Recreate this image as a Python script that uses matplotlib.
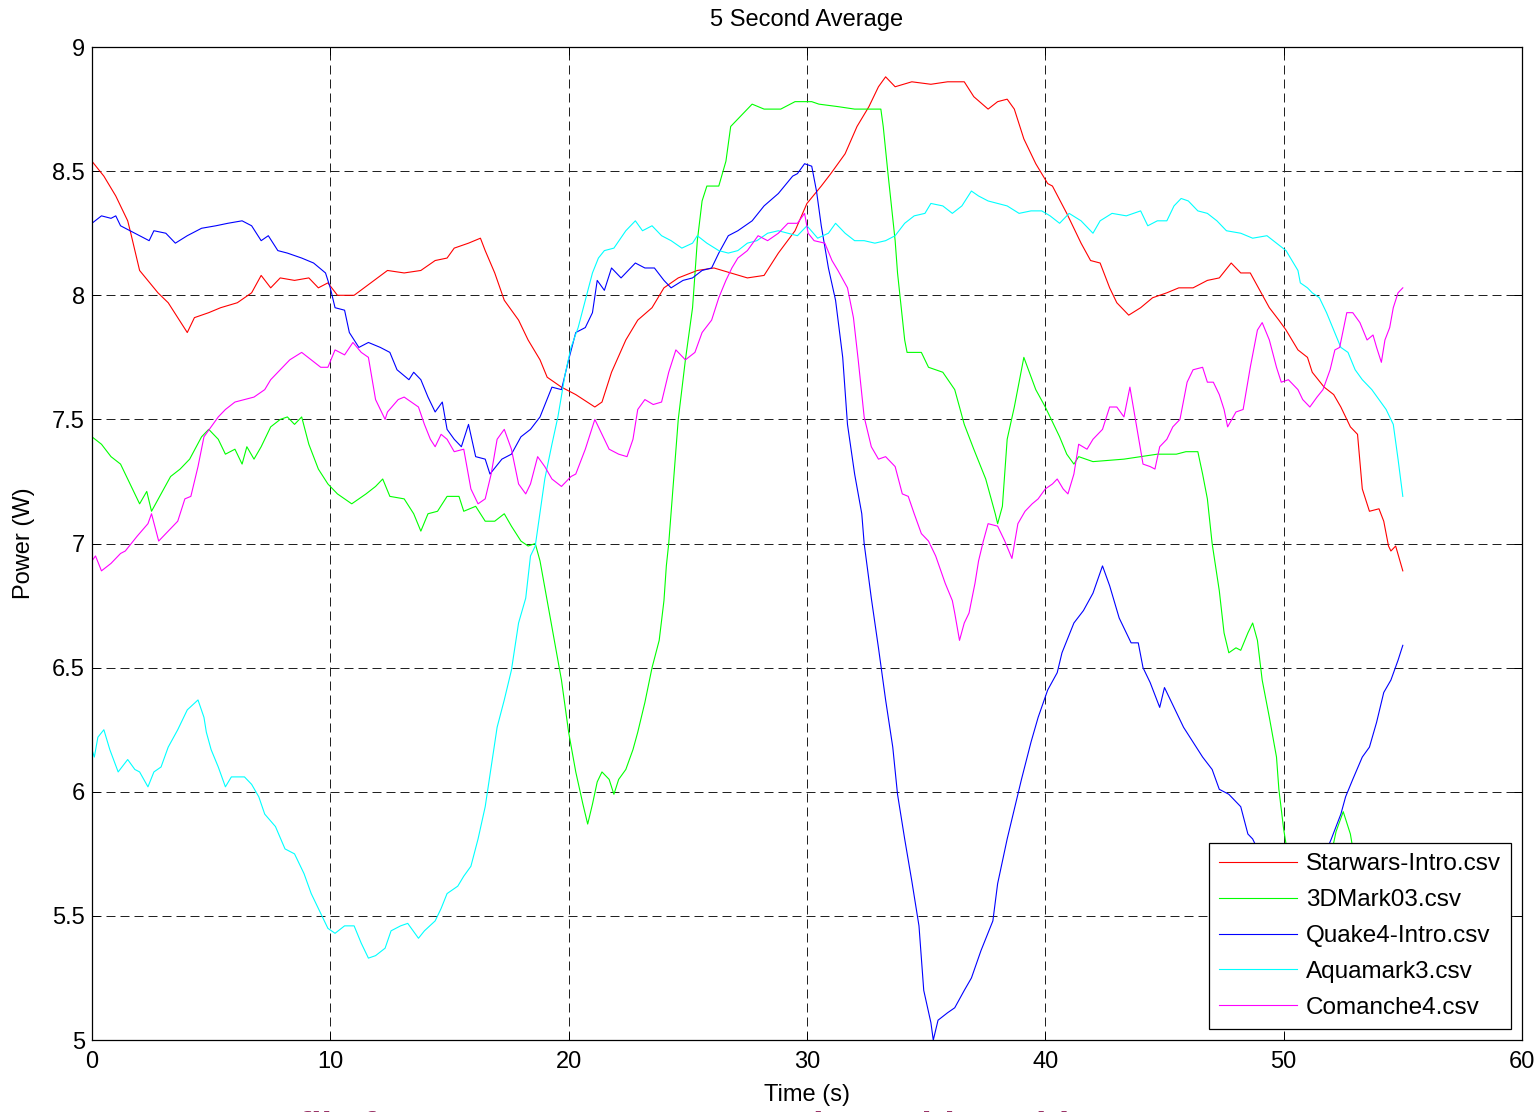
import numpy as np
import matplotlib
matplotlib.use("Agg")
import matplotlib.pyplot as plt
from matplotlib.ticker import FixedLocator, FixedFormatter

plt.rcParams['font.family'] = ['Liberation Sans', 'DejaVu Sans']

# ----------------------------------------------
# Datos (tiempo en s, potencia en W)
# ----------------------------------------------
t_star = [0, 0.5, 1.0, 1.5, 1.63, 2.0, 2.77, 3.2, 3.6, 4.0, 4.3, 4.9, 5.4, 6.1, 6.7, 7.1, 7.5,
          7.9, 8.5, 9.1, 9.5, 9.9, 10.3, 11.0, 11.7, 12.4, 13.1, 13.8, 14.4, 14.9, 15.2, 15.8,
          16.3, 16.5, 16.9, 17.3, 17.9, 18.3, 18.8, 19.1, 19.7, 20.3, 21.1, 21.4, 21.8, 22.4,
          22.9, 23.5, 24.0, 24.6, 25.4, 26.1, 26.8, 27.5, 28.2, 28.8, 29.5, 30.0, 30.6, 31.0,
          31.6, 32.1, 32.6, 33.0, 33.3, 33.7, 34.4, 35.2, 35.9, 36.6, 37.0, 37.6, 38.0, 38.4,
          38.7, 39.1, 39.6, 40.1, 40.3, 40.9, 41.5, 41.9, 42.3, 42.7, 43.0, 43.5, 44.0, 44.5,
          45.1, 45.6, 46.2, 46.8, 47.3, 47.8, 48.2, 48.6, 49.0, 49.4, 49.8, 50.1, 50.6, 51.0,
          51.2, 51.7, 52.1, 52.4, 52.8, 53.1, 53.3, 53.6, 54.0, 54.2, 54.4, 54.5, 54.7, 55.0]
p_star = [8.54, 8.48, 8.40, 8.30, 8.25, 8.10, 8.01, 7.97, 7.91, 7.85, 7.91, 7.93, 7.95, 7.97,
          8.01, 8.08, 8.03, 8.07, 8.06, 8.07, 8.03, 8.05, 8.00, 8.00, 8.05, 8.10, 8.09, 8.10,
          8.14, 8.15, 8.19, 8.21, 8.23, 8.18, 8.09, 7.98, 7.90, 7.82, 7.74, 7.67, 7.63, 7.60,
          7.55, 7.57, 7.69, 7.82, 7.90, 7.95, 8.03, 8.07, 8.10, 8.11, 8.09, 8.07, 8.08, 8.17,
          8.26, 8.37, 8.44, 8.49, 8.57, 8.68, 8.76, 8.84, 8.88, 8.84, 8.86, 8.85, 8.86, 8.86,
          8.80, 8.75, 8.78, 8.79, 8.75, 8.63, 8.53, 8.45, 8.44, 8.33, 8.21, 8.14, 8.13, 8.03,
          7.97, 7.92, 7.95, 7.99, 8.01, 8.03, 8.03, 8.06, 8.07, 8.13, 8.09, 8.09, 8.02, 7.95,
          7.90, 7.86, 7.78, 7.75, 7.69, 7.63, 7.60, 7.55, 7.47, 7.44, 7.22, 7.13, 7.14, 7.09,
          6.99, 6.97, 6.99, 6.89]

t_3dm = [0, 0.4, 0.8, 1.2, 1.6, 2.0, 2.3, 2.5, 2.9, 3.3, 3.7, 4.1, 4.6, 4.9, 5.3, 5.6, 6.0,
         6.3, 6.5, 6.8, 7.1, 7.5, 7.9, 8.2, 8.5, 8.8, 9.1, 9.5, 9.9, 10.3, 10.9, 11.5, 11.9,
         12.2, 12.5, 13.1, 13.5, 13.8, 14.1, 14.5, 14.9, 15.4, 15.6, 16.1, 16.5, 16.9, 17.3,
         17.6, 18.0, 18.3, 18.6, 18.8, 19.1, 19.4, 19.7, 20.0, 20.3, 20.6, 20.8, 21.0, 21.2,
         21.4, 21.7, 21.9, 22.1, 22.4, 22.7, 22.9, 23.2, 23.5, 23.8, 24.0, 24.1, 24.2, 24.6,
         24.9, 25.2, 25.4, 25.6, 25.8, 26.3, 26.6, 26.8, 27.1, 27.4, 27.7, 28.2, 28.9, 29.5,
         30.2, 30.5, 31.3, 32.0, 33.1, 33.2, 33.4, 33.7, 33.8, 34.1, 34.2, 34.8, 35.1, 35.7,
         36.2, 36.6, 37.0, 37.5, 37.9, 38.0, 38.2, 38.4, 38.7, 39.1, 39.6, 40.0, 40.3, 40.6,
         40.9, 41.2, 41.4, 42.0, 43.3, 44.0, 44.7, 45.5, 45.9, 46.4, 46.6, 46.8, 47.0, 47.3,
         47.5, 47.7, 48.0, 48.2, 48.5, 48.7, 48.9, 49.1, 49.4, 49.7, 49.8, 50.0, 50.5, 51.0,
         51.5, 52.0, 52.2, 52.5, 52.8, 53.2, 54.0, 55.0]
p_3dm = [7.43, 7.40, 7.35, 7.32, 7.24, 7.16, 7.21, 7.13, 7.20, 7.27, 7.30, 7.34, 7.43, 7.46,
         7.42, 7.36, 7.38, 7.32, 7.39, 7.34, 7.39, 7.47, 7.50, 7.51, 7.48, 7.51, 7.40, 7.30,
         7.24, 7.20, 7.16, 7.20, 7.23, 7.26, 7.19, 7.18, 7.12, 7.05, 7.12, 7.13, 7.19, 7.19,
         7.13, 7.15, 7.09, 7.09, 7.12, 7.07, 7.01, 6.99, 7.00, 6.93, 6.77, 6.61, 6.45, 6.24,
         6.08, 5.95, 5.87, 5.95, 6.04, 6.08, 6.05, 5.99, 6.05, 6.09, 6.17, 6.24, 6.36, 6.50,
         6.61, 6.77, 6.91, 7.00, 7.50, 7.74, 7.95, 8.22, 8.38, 8.44, 8.44, 8.54, 8.68, 8.71,
         8.74, 8.77, 8.75, 8.75, 8.78, 8.78, 8.77, 8.76, 8.75, 8.75, 8.68, 8.49, 8.22, 8.09,
         7.82, 7.77, 7.77, 7.71, 7.69, 7.62, 7.48, 7.38, 7.26, 7.12, 7.08, 7.15, 7.42, 7.55,
         7.75, 7.62, 7.55, 7.49, 7.43, 7.36, 7.32, 7.35, 7.33, 7.34, 7.35, 7.36, 7.36, 7.37,
         7.37, 7.28, 7.18, 7.00, 6.81, 6.64, 6.56, 6.58, 6.57, 6.64, 6.68, 6.61, 6.45, 6.30,
         6.14, 6.01, 5.85, 5.55, 5.35, 5.45, 5.75, 5.84, 5.92, 5.83, 5.60, 5.30, 5.10]

t_quake = [0, 0.4, 0.8, 1.0, 1.2, 1.6, 2.0, 2.4, 2.6, 3.1, 3.5, 4.0, 4.6, 5.2, 5.7, 6.3, 6.7,
           7.1, 7.4, 7.8, 8.2, 8.8, 9.3, 9.8, 10.0, 10.2, 10.6, 10.8, 11.2, 11.6, 12.1, 12.5,
           12.8, 13.3, 13.5, 13.8, 14.1, 14.4, 14.7, 14.9, 15.2, 15.5, 15.8, 16.1, 16.5, 16.7,
           17.2, 17.6, 18.0, 18.4, 18.8, 19.3, 19.7, 20.0, 20.3, 20.7, 21.0, 21.2, 21.5, 21.8,
           22.2, 22.8, 23.2, 23.6, 24.0, 24.3, 24.8, 25.2, 25.6, 26.0, 26.3, 26.7, 27.1, 27.7,
           28.2, 28.8, 29.4, 29.6, 29.9, 30.2, 30.4, 30.6, 30.9, 31.2, 31.5, 31.7, 32.0, 32.3,
           32.4, 32.7, 33.0, 33.3, 33.6, 33.8, 34.1, 34.4, 34.7, 34.9, 35.2, 35.3, 35.5, 35.9,
           36.2, 36.6, 36.9, 37.3, 37.8, 38.0, 38.4, 38.7, 39.0, 39.4, 39.7, 40.1, 40.5, 40.7,
           41.2, 41.6, 42.0, 42.4, 42.7, 43.1, 43.6, 43.9, 44.1, 44.4, 44.8, 45.0, 45.4, 45.8,
           46.2, 46.6, 47.0, 47.3, 47.7, 48.2, 48.5, 48.7, 49.5, 50.5, 51.3, 52.0, 52.4, 52.6,
           52.9, 53.3, 53.6, 53.9, 54.2, 54.5, 54.8, 55.0]
p_quake = [8.29, 8.32, 8.31, 8.32, 8.28, 8.26, 8.24, 8.22, 8.26, 8.25, 8.21, 8.24, 8.27, 8.28,
           8.29, 8.30, 8.28, 8.22, 8.24, 8.18, 8.17, 8.15, 8.13, 8.09, 8.03, 7.95, 7.94, 7.85,
           7.79, 7.81, 7.79, 7.77, 7.70, 7.66, 7.69, 7.66, 7.59, 7.53, 7.57, 7.46, 7.42, 7.39,
           7.48, 7.35, 7.34, 7.28, 7.34, 7.36, 7.43, 7.46, 7.51, 7.63, 7.62, 7.74, 7.85, 7.87,
           7.93, 8.06, 8.02, 8.11, 8.07, 8.13, 8.11, 8.11, 8.06, 8.03, 8.06, 8.07, 8.10, 8.11,
           8.17, 8.24, 8.26, 8.30, 8.36, 8.41, 8.48, 8.49, 8.53, 8.52, 8.42, 8.28, 8.11, 7.98,
           7.75, 7.48, 7.28, 7.12, 7.00, 6.78, 6.58, 6.37, 6.18, 5.99, 5.81, 5.64, 5.46, 5.20,
           5.07, 5.00, 5.08, 5.11, 5.13, 5.20, 5.25, 5.36, 5.48, 5.63, 5.81, 5.93, 6.05, 6.20,
           6.30, 6.41, 6.48, 6.56, 6.68, 6.73, 6.80, 6.91, 6.83, 6.70, 6.60, 6.60, 6.50, 6.44,
           6.34, 6.42, 6.34, 6.26, 6.20, 6.14, 6.09, 6.01, 5.99, 5.94, 5.83, 5.81, 5.65, 5.55,
           5.65, 5.81, 5.91, 5.98, 6.05, 6.14, 6.18, 6.28, 6.40, 6.45, 6.53, 6.59]

t_aqua = [0, 0.1, 0.25, 0.5, 0.75, 1.1, 1.5, 1.8, 2.0, 2.35, 2.6, 2.9, 3.2, 3.6, 4.0, 4.45,
          4.7, 4.8, 5.0, 5.3, 5.6, 5.85, 6.4, 6.7, 7.0, 7.25, 7.7, 8.1, 8.5, 8.9, 9.2, 9.6,
          9.9, 10.2, 10.6, 11.0, 11.3, 11.6, 11.9, 12.3, 12.55, 12.95, 13.25, 13.7, 13.95,
          14.4, 14.65, 14.9, 15.35, 15.6, 15.9, 16.2, 16.5, 16.75, 17.0, 17.3, 17.6, 17.9,
          18.2, 18.4, 18.6, 19.0, 19.3, 19.55, 19.85, 20.1, 20.4, 20.7, 21.0, 21.25, 21.5,
          21.9, 22.4, 22.8, 23.1, 23.5, 23.9, 24.3, 24.75, 25.2, 25.4, 25.8, 26.3, 26.7, 27.1,
          27.5, 27.9, 28.35, 28.8, 29.2, 29.6, 30.0, 30.45, 30.9, 31.2, 31.6, 32.0, 32.4,
          32.85, 33.3, 33.7, 34.1, 34.5, 34.95, 35.2, 35.7, 36.1, 36.5, 36.9, 37.2, 37.6,
          38.0, 38.4, 38.9, 39.4, 39.85, 40.2, 40.6, 41.0, 41.5, 42.0, 42.3, 42.8, 43.4, 44.0,
          44.3, 44.7, 45.1, 45.4, 45.7, 46.0, 46.4, 46.8, 47.2, 47.6, 48.2, 48.7, 49.3, 49.7,
          50.1, 50.6, 50.7, 51.0, 51.2, 51.5, 51.8, 52.1, 52.4, 52.7, 53.0, 53.3, 53.7, 54.0,
          54.3, 54.6, 54.8, 55.0]
p_aqua = [6.17, 6.14, 6.22, 6.25, 6.17, 6.08, 6.13, 6.09, 6.08, 6.02, 6.08, 6.10, 6.18, 6.25,
          6.33, 6.37, 6.30, 6.24, 6.17, 6.10, 6.02, 6.06, 6.06, 6.03, 5.98, 5.91, 5.86, 5.77,
          5.75, 5.67, 5.59, 5.51, 5.45, 5.43, 5.46, 5.46, 5.39, 5.33, 5.34, 5.37, 5.44, 5.46,
          5.47, 5.41, 5.44, 5.48, 5.53, 5.59, 5.62, 5.66, 5.70, 5.81, 5.94, 6.10, 6.26, 6.37,
          6.49, 6.68, 6.78, 6.95, 6.99, 7.26, 7.40, 7.51, 7.68, 7.79, 7.87, 7.98, 8.09, 8.15,
          8.18, 8.19, 8.26, 8.30, 8.26, 8.28, 8.24, 8.22, 8.19, 8.21, 8.24, 8.21, 8.18, 8.17,
          8.18, 8.21, 8.22, 8.25, 8.26, 8.25, 8.24, 8.28, 8.23, 8.25, 8.29, 8.25, 8.22, 8.22,
          8.21, 8.22, 8.24, 8.29, 8.32, 8.33, 8.37, 8.36, 8.33, 8.36, 8.42, 8.40, 8.38, 8.37,
          8.36, 8.33, 8.34, 8.34, 8.32, 8.29, 8.33, 8.30, 8.25, 8.30, 8.33, 8.32, 8.34, 8.28,
          8.30, 8.30, 8.36, 8.39, 8.38, 8.34, 8.33, 8.30, 8.26, 8.25, 8.23, 8.24, 8.21, 8.18,
          8.10, 8.05, 8.03, 8.01, 7.99, 7.93, 7.86, 7.79, 7.77, 7.70, 7.66, 7.62, 7.58, 7.54,
          7.48, 7.34, 7.19]

t_coma = [0, 0.15, 0.4, 0.8, 1.2, 1.4, 1.9, 2.35, 2.5, 2.8, 3.2, 3.6, 3.9, 4.15, 4.45, 4.7,
          5.0, 5.3, 5.6, 6.0, 6.4, 6.8, 7.25, 7.5, 7.9, 8.3, 8.8, 9.2, 9.6, 9.9, 10.2, 10.6,
          10.95, 11.3, 11.6, 11.9, 12.3, 12.4, 12.85, 13.1, 13.4, 13.7, 13.95, 14.2, 14.4,
          14.65, 14.9, 15.2, 15.6, 15.9, 16.2, 16.5, 16.75, 17.0, 17.3, 17.6, 17.9, 18.2,
          18.4, 18.7, 19.0, 19.3, 19.7, 20.1, 20.3, 20.7, 21.1, 21.4, 21.7, 22.1, 22.45, 22.7,
          22.9, 23.2, 23.55, 23.9, 24.2, 24.5, 24.9, 25.3, 25.6, 26.0, 26.3, 26.6, 26.85,
          27.1, 27.5, 27.95, 28.35, 28.8, 29.2, 29.6, 29.9, 30.05, 30.3, 30.75, 31.05, 31.3,
          31.7, 31.95, 32.15, 32.4, 32.7, 33.0, 33.3, 33.7, 34.0, 34.25, 34.5, 34.8, 35.1,
          35.4, 35.8, 36.1, 36.2, 36.4, 36.6, 36.8, 37.05, 37.2, 37.4, 37.6, 38.0, 38.3, 38.6,
          38.85, 39.15, 39.45, 39.7, 40.0, 40.3, 40.5, 40.75, 40.95, 41.2, 41.4, 41.75, 42.0,
          42.4, 42.7, 43.0, 43.3, 43.55, 43.85, 44.1, 44.4, 44.6, 44.8, 45.1, 45.35, 45.65,
          45.95, 46.2, 46.6, 46.8, 47.05, 47.3, 47.5, 47.65, 48.0, 48.3, 48.6, 48.9, 49.1,
          49.4, 49.7, 49.9, 50.2, 50.6, 50.8, 51.1, 51.4, 51.65, 51.95, 52.15, 52.35, 52.65,
          52.9, 53.2, 53.5, 53.75, 53.9, 54.1, 54.25, 54.45, 54.6, 54.8, 55.0]
p_coma = [6.93, 6.95, 6.89, 6.92, 6.96, 6.97, 7.03, 7.08, 7.12, 7.01, 7.05, 7.09, 7.18, 7.19,
          7.31, 7.43, 7.47, 7.51, 7.54, 7.57, 7.58, 7.59, 7.62, 7.66, 7.70, 7.74, 7.77, 7.74,
          7.71, 7.71, 7.78, 7.76, 7.81, 7.77, 7.75, 7.58, 7.50, 7.53, 7.58, 7.59, 7.57, 7.55,
          7.48, 7.42, 7.39, 7.44, 7.42, 7.37, 7.38, 7.22, 7.16, 7.18, 7.28, 7.42, 7.46, 7.38,
          7.24, 7.20, 7.24, 7.35, 7.31, 7.26, 7.23, 7.27, 7.28, 7.38, 7.50, 7.44, 7.38, 7.36,
          7.35, 7.42, 7.54, 7.58, 7.56, 7.57, 7.69, 7.78, 7.74, 7.77, 7.85, 7.90, 7.99, 8.06,
          8.11, 8.15, 8.18, 8.24, 8.22, 8.25, 8.29, 8.29, 8.33, 8.25, 8.22, 8.21, 8.14, 8.10,
          8.03, 7.91, 7.74, 7.51, 7.39, 7.34, 7.35, 7.31, 7.20, 7.19, 7.12, 7.04, 7.01, 6.95,
          6.84, 6.77, 6.72, 6.61, 6.68, 6.72, 6.84, 6.93, 7.01, 7.08, 7.07, 7.01, 6.94, 7.08,
          7.13, 7.16, 7.18, 7.22, 7.24, 7.26, 7.22, 7.20, 7.28, 7.40, 7.38, 7.42, 7.46, 7.55,
          7.55, 7.51, 7.63, 7.46, 7.32, 7.31, 7.30, 7.39, 7.42, 7.47, 7.50, 7.65, 7.70, 7.71,
          7.65, 7.65, 7.60, 7.54, 7.47, 7.53, 7.54, 7.71, 7.86, 7.89, 7.82, 7.71, 7.65, 7.66,
          7.62, 7.58, 7.55, 7.59, 7.62, 7.70, 7.78, 7.79, 7.93, 7.93, 7.89, 7.82, 7.84, 7.79,
          7.73, 7.82, 7.87, 7.95, 8.01, 8.03]

series_names = ['Starwars-Intro.csv', '3DMark03.csv', 'Quake4-Intro.csv',
                'Aquamark3.csv', 'Comanche4.csv']
series_t = [t_star, t_3dm, t_quake, t_aqua, t_coma]
series_p = [p_star, p_3dm, p_quake, p_aqua, p_coma]
series_colors = ['#ff0000', '#00ff00', '#0000ff', '#00ffff', '#ff00ff']

x_ticks = [0, 10, 20, 30, 40, 50, 60]
y_ticks = [5, 5.5, 6, 6.5, 7, 7.5, 8, 8.5, 9]
y_tick_labels = ['5', '5.5', '6', '6.5', '7', '7.5', '8', '8.5', '9']

# ----------------------------------------------
# Figura
# ----------------------------------------------
fig = plt.figure(figsize=(15.4, 11.12), dpi=100)
ax = fig.add_axes([0.0597, 0.0647, 0.9286, 0.8930])

for t, p, c, name in zip(series_t, series_p, series_colors, series_names):
    ax.plot(t, p, color=c, linewidth=0.8, label=name)

ax.set_xlim(0, 60)
ax.set_ylim(5, 9)
ax.xaxis.set_major_locator(FixedLocator(x_ticks))
ax.yaxis.set_major_locator(FixedLocator(y_ticks))
ax.yaxis.set_major_formatter(FixedFormatter(y_tick_labels))

ax.grid(True, color='#222222', linestyle=(0, (9, 5)), linewidth=0.72)
ax.tick_params(direction='in', length=6, width=0.72, top=True, right=True,
               labelsize=17, colors='black')
ax.tick_params(axis='x', pad=8)
ax.tick_params(axis='y', pad=5)
for s in ax.spines.values():
    s.set_linewidth(0.9)
    s.set_color('black')

ax.set_title('5 Second Average', fontsize=17, pad=15.5)
ax.set_xlabel('Time (s)', fontsize=17, labelpad=8)
ax.set_ylabel('Power (W)', fontsize=17, labelpad=12)

leg = ax.legend(loc='lower right', bbox_to_anchor=(0.9923, 0.0111), fontsize=17.5,
                fancybox=False, framealpha=1, edgecolor='black', borderaxespad=0,
                handlelength=3.2, handletextpad=0.35, labelspacing=0.57, borderpad=0.42)
leg.get_frame().set_linewidth(0.9)

# texto de la diapositiva original, recortado por el borde inferior
fig.text(0.0735, 0.0013, 'Power Profile for a 915GMCH Integrated Graphics with Demos',
         fontsize=27, fontweight='bold', color='#993366', va='top', ha='left')

fig.savefig('out.png', dpi=100)
plt.close(fig)
